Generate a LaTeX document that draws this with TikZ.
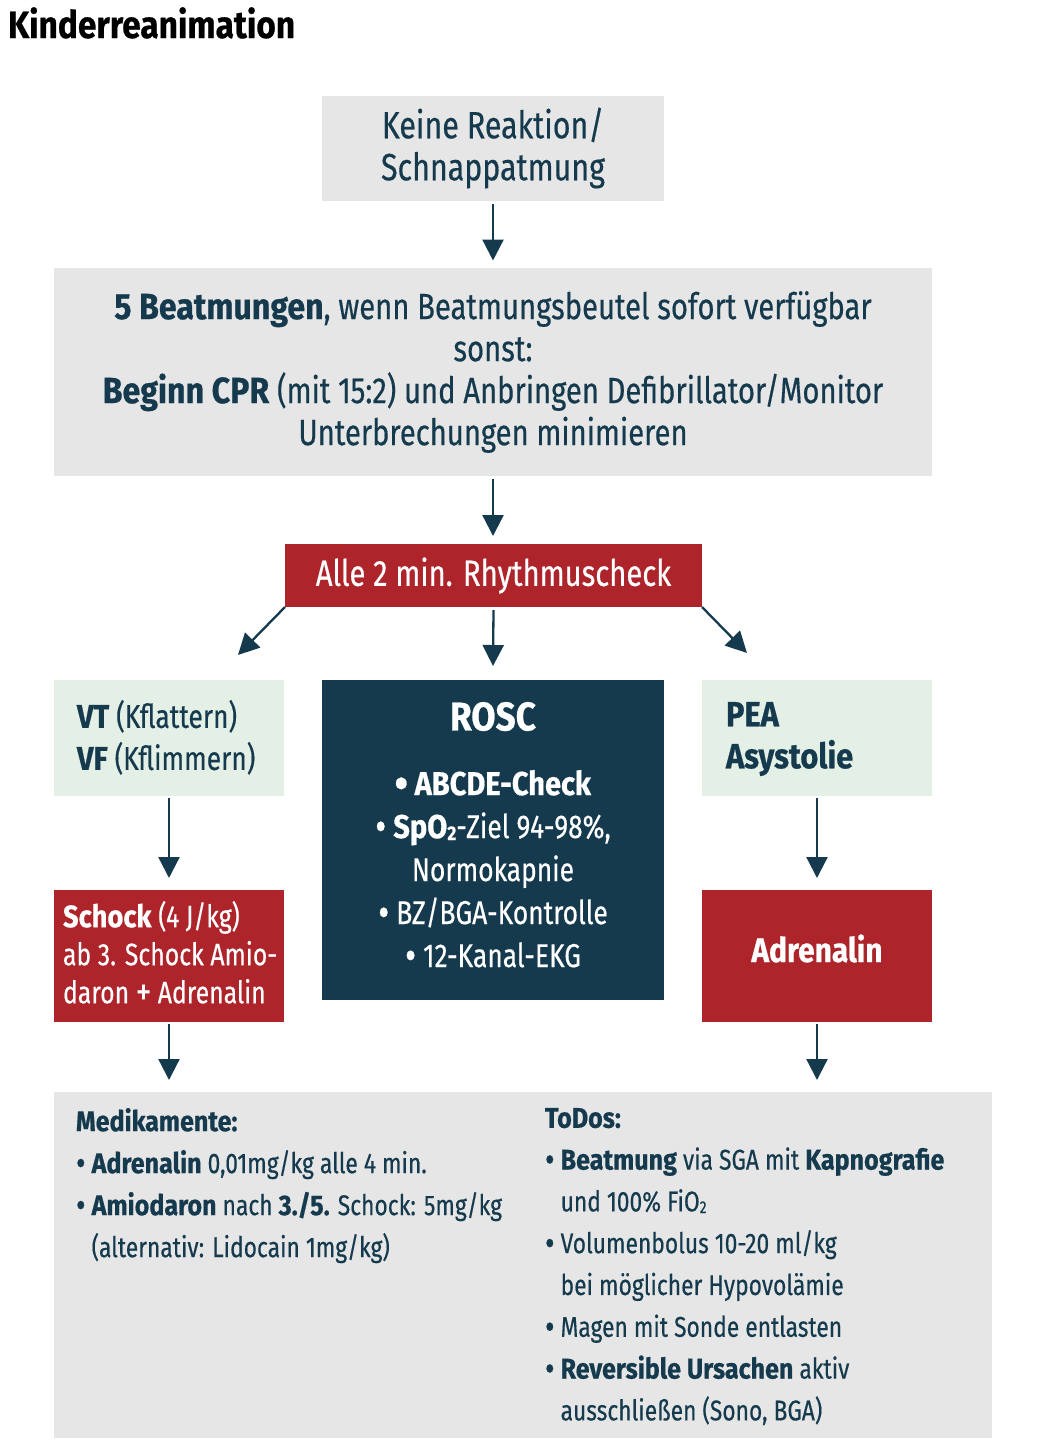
\documentclass[tikz,border=0pt]{standalone}
\usepackage{fontspec}
\setmainfont{Fira Sans}[UprightFeatures={FakeStretch=0.8, FakeBold=0.4}, BoldFeatures={FakeStretch=0.88, FakeBold=0.6}]
\usetikzlibrary{arrows.meta}
\definecolor{navy}{HTML}{153A4E}
\definecolor{crimson}{HTML}{AD252B}
\definecolor{boxgray}{HTML}{E6E6E6}
\definecolor{mint}{HTML}{E4EFE6}
\newcommand{\fs}[2]{\fontsize{#1}{#2}\selectfont}
\newcommand{\bdot}{\raisebox{-0.09em}{\scalebox{1.3}{•}}}
\newcommand{\bul}{\bdot\ }
\newcommand{\ind}{\hphantom{\bdot\ }}
\newcommand{\subtwo}{\raisebox{-0.06em}{\scalebox{0.6}{2}}}
\newcommand{\plussign}{\raisebox{-0.05em}{\scalebox{1.25}{+}}}
\begin{document}
\begin{tikzpicture}[x=1pt,y=-1pt,
  box/.style={rectangle, inner sep=0pt, outer sep=0pt, align=center},
  arr/.style={draw=navy, line width=2.3pt, -{Triangle[length=21pt,width=21pt]}},
  txt/.style={inner sep=0pt, outer sep=0pt}]
\useasboundingbox (0,0) rectangle (1040,1444);

\node[txt, anchor=base west, font=\fs{38}{42}\bfseries] (title) at (8,38) {Kinderreanimation};

\node[box, fill=boxgray, minimum width=342, minimum height=105, text=navy, font=\fs{38}{42}] (react) at (493,148) {Keine Reaktion/\\Schnappatmung};

\node[box, fill=boxgray, minimum width=878, minimum height=208, text=navy, font=\fs{36.5}{42}] (cpr) at (493,372)
 {\textbf{5 Beatmungen}, wenn Beatmungsbeutel sofort verfügbar\\sonst:\\\textbf{Beginn CPR} (mit 15:2) und Anbringen Defibrillator/Monitor\\Unterbrechungen minimieren};

\node[box, fill=crimson, minimum width=417, minimum height=63, text=white, font=\fs{36.5}{42}] (rhythm) at (493.5,575.5) {Alle 2 min. Rhythmuscheck};

\node[box, fill=mint, minimum width=230, minimum height=116, text=navy] (vt) at (169,738) {};
\node[txt, anchor=north west, text=navy, font=\fs{33}{42}, align=left] (vttext) at (77,700)
 {\textbf{VT} (Kflattern)\\\textbf{VF} (Kflimmern)};

\node[box, fill=navy, minimum width=342, minimum height=320, text=white] (rosc) at (493,840) {};
\node[txt, anchor=north, text=white, font=\fs{40}{42}\bfseries] (rosctitle) at (493,702) {ROSC};
\node[txt, anchor=north, text=white, font=\fs{33}{43}, align=center] (rosctext) at (493,770)
 {\textbf{\bdot\ ABCDE-Check}\\\bdot\ \textbf{SpO\subtwo}-Ziel 94-98\%,\\Normokapnie\\\bdot\ BZ/BGA-Kontrolle\\\bdot\ 12-Kanal-EKG};

\node[box, fill=mint, minimum width=230, minimum height=116, text=navy] (pea) at (817,738) {};
\node[txt, anchor=north west, text=navy, font=\fs{35}{42}\bfseries, align=left] (peatext) at (726,702)
 {PEA\\Asystolie};

\node[box, fill=crimson, minimum width=230, minimum height=132] (schock) at (169,956) {};
\node[txt, anchor=north west, text=white, font=\fs{31}{38}, align=left] (schocktext) at (63,901)
 {\textbf{Schock} (4 J/kg)\\ab 3. Schock Amio-\\daron \plussign\ Adrenalin};

\node[box, fill=crimson, minimum width=230, minimum height=132] (adr) at (817,956) {};
\node[txt, anchor=base, text=white, font=\fs{34}{42}\bfseries] (adrtext) at (817,962) {Adrenalin};

\node[box, fill=boxgray, minimum width=938, minimum height=346] (bottom) at (523,1265) {};
\node[txt, anchor=north west, text=navy, font=\fs{28.5}{42}, align=left] (medi) at (76,1108)
 {\textbf{Medikamente:}\\
  \bul\textbf{Adrenalin} 0,01mg/kg alle 4 min.\\
  \bul\textbf{Amiodaron} nach \textbf{3./5.} Schock: 5mg/kg\\
  \ind(alternativ: Lidocain 1mg/kg)};
\node[txt, anchor=north west, text=navy, font=\fs{28.5}{41.8}, align=left] (todos) at (545,1108)
 {\textbf{ToDos:}\\
  \bul\textbf{Beatmung} via SGA mit \textbf{Kapnografie}\\
  \ind und 100\% FiO\subtwo\\
  \bul Volumenbolus 10-20 ml/kg\\
  \ind bei möglicher Hypovolämie\\
  \bul Magen mit Sonde entlasten\\
  \bul\textbf{Reversible Ursachen} aktiv\\
  \ind ausschließen (Sono, BGA)};

\draw[arr] ([yshift=-3]react.south) -- ([yshift=-60]react.south);
\draw[arr] ([yshift=-3]cpr.south) -- ([yshift=-60]cpr.south);
\draw[arr] (rhythm.south west) -- ++(-47,48);
\draw[arr] ([yshift=-3]rhythm.south) -- ([yshift=14]rosc.north);
\draw[arr] (rhythm.south east) -- ++(45,46);
\draw[arr] ([yshift=-2]vt.south) -- ([yshift=12]schock.north);
\draw[arr] ([yshift=-2]pea.south) -- ([yshift=12]adr.north);
\draw[arr] ([yshift=-2]schock.south) -- ++(0,56);
\draw[arr] ([yshift=-2]adr.south) -- ++(0,56);
\end{tikzpicture}
\end{document}
